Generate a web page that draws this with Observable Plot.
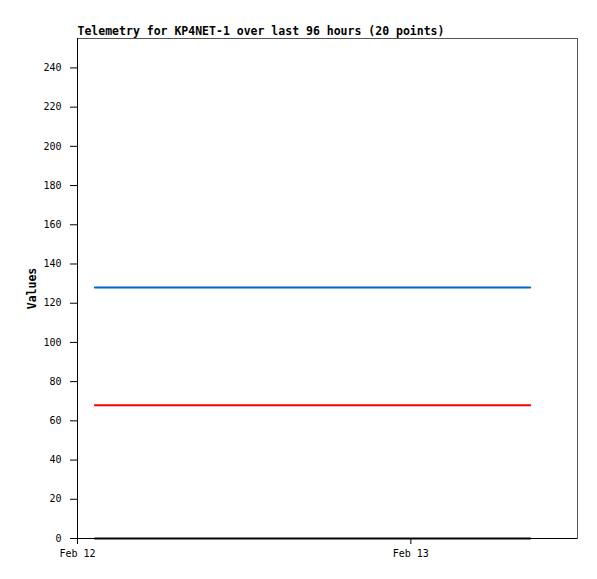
<!DOCTYPE html>
<html>
<head>
<meta charset="utf-8">
<script src="https://cdn.jsdelivr.net/npm/d3@7"></script>
<script src="https://cdn.jsdelivr.net/npm/@observablehq/plot@0.6"></script>
<style>
  html, body { margin: 0; padding: 0; background: #fff; }
  #chart svg { display: block; }
</style>
</head>
<body>
<div id="chart"></div>
<script>
const title = "Telemetry for KP4NET-1 over last 96 hours (20 points)";
const yLabel = "Values";
const times = [
  "2024-02-12T01:15Z", "2024-02-12T02:54Z", "2024-02-12T04:33Z", "2024-02-12T06:12Z",
  "2024-02-12T07:51Z", "2024-02-12T09:30Z", "2024-02-12T11:09Z", "2024-02-12T12:48Z",
  "2024-02-12T14:27Z", "2024-02-12T16:06Z", "2024-02-12T17:45Z", "2024-02-12T19:24Z",
  "2024-02-12T21:03Z", "2024-02-12T22:42Z", "2024-02-13T00:21Z", "2024-02-13T02:00Z",
  "2024-02-13T03:39Z", "2024-02-13T05:18Z", "2024-02-13T06:57Z", "2024-02-13T08:36Z"
];
const seriesNames = ["ch1", "ch2", "ch3"];
const seriesColors = ["#0066cc", "#ff0000", "#000000"];
const ch1 = [128,128,128,128,128,128,128,128,128,128,128,128,128,128,128,128,128,128,128,128];
const ch2 = [68,68,68,68,68,68,68,68,68,68,68,68,68,68,68,68,68,68,68,68];
const ch3 = [0,0,0,0,0,0,0,0,0,0,0,0,0,0,0,0,0,0,0,0];
const yTicks = [0,20,40,60,80,100,120,140,160,180,200,220,240];
const xTicks = ["2024-02-12T00:00Z", "2024-02-13T00:00Z"];
const xDomain = ["2024-02-12T00:00Z", "2024-02-13T12:00Z"];
const yDomain = [0, 255];

const allSeries = [ch1, ch2, ch3];
const rows = [];
allSeries.forEach((vals, s) => {
  vals.forEach((v, i) => rows.push({t: new Date(times[i]), v, s: seriesNames[s]}));
});

const fmt = d3.utcFormat("%b %d");

const chart = Plot.plot({
  width: 597,
  height: 579,
  marginLeft: 77,
  marginRight: 20,
  marginTop: 38,
  marginBottom: 41,
  style: {fontFamily: "'DejaVu Sans Mono', monospace", fontSize: "10px", color: "#000", background: "#fff"},
  x: {type: "utc", domain: xDomain.map(d => new Date(d)), ticks: xTicks.map(d => new Date(d)), tickFormat: fmt, tickSize: 6, tickPadding: 5, label: null},
  y: {domain: yDomain, ticks: yTicks, tickSize: 7, tickPadding: 9, label: null},
  color: {domain: seriesNames, range: seriesColors},
  marks: [
    Plot.frame({stroke: "#555", strokeWidth: 1}),
    Plot.axisX({ticks: xTicks.map(d => new Date(d)), tickFormat: fmt, tickSize: 6, tickPadding: 5, label: null, stroke: "#000", strokeWidth: 1}),
    Plot.axisY({ticks: yTicks, tickSize: 7, tickPadding: 9, label: null, stroke: "#000", strokeWidth: 1}),
    Plot.ruleX([new Date(xDomain[0])], {stroke: "#000", strokeWidth: 1}),
    Plot.ruleY([0], {stroke: "#000", strokeWidth: 1}),
    Plot.line(rows, {x: "t", y: "v", z: "s", stroke: "s", strokeWidth: 2}),
    Plot.text([title], {frameAnchor: "top-left", dy: -4, lineAnchor: "bottom", textAnchor: "start", fontWeight: "bold", fontSize: 11.5, fill: "#000"}),
    Plot.text([yLabel], {frameAnchor: "left", dx: -45, rotate: -90, textAnchor: "middle", lineAnchor: "middle", fontWeight: "bold", fontSize: 11.5, fill: "#000"})
  ]
});
document.getElementById("chart").appendChild(chart);
</script>
</body>
</html>
